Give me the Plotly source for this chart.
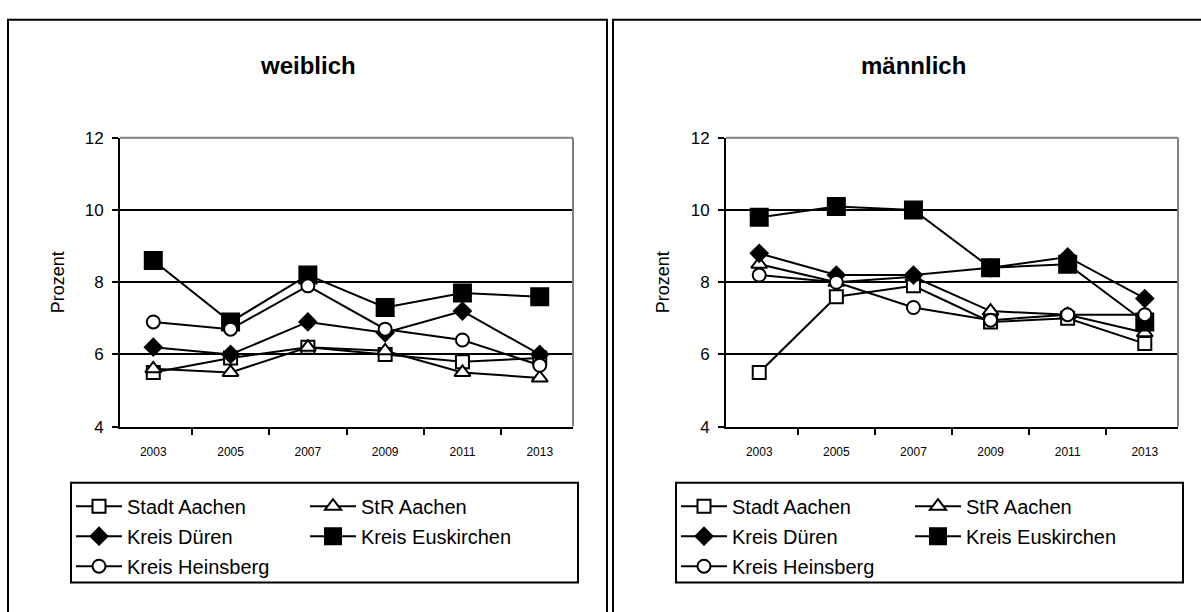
import plotly.graph_objects as go

# Survey years shown on the category axis
years = ["2003", "2005", "2007", "2009", "2011", "2013"]

series_names = ["Stadt Aachen", "StR Aachen", "Kreis Düren", "Kreis Euskirchen", "Kreis Heinsberg"]

# Anteile in Prozent, weiblich
w_stadt_aachen = [5.5, 5.9, 6.2, 6.0, 5.8, 5.9]
w_str_aachen = [5.6, 5.5, 6.2, 6.1, 5.5, 5.35]
w_kreis_dueren = [6.2, 6.0, 6.9, 6.6, 7.2, 6.0]
w_kreis_euskirchen = [8.6, 6.9, 8.2, 7.3, 7.7, 7.6]
w_kreis_heinsberg = [6.9, 6.7, 7.9, 6.7, 6.4, 5.7]

# Anteile in Prozent, männlich
m_stadt_aachen = [5.5, 7.6, 7.9, 6.9, 7.0, 6.3]
m_str_aachen = [8.5, 8.0, 8.15, 7.2, 7.1, 6.6]
m_kreis_dueren = [8.8, 8.2, 8.2, 8.4, 8.7, 7.55]
m_kreis_euskirchen = [9.8, 10.1, 10.0, 8.4, 8.5, 6.9]
m_kreis_heinsberg = [8.2, 8.0, 7.3, 6.95, 7.1, 7.1]

panel_titles = ["weiblich", "männlich"]
y_title = "Prozent"
y_ticks = [4, 6, 8, 10, 12]

W, H = 1201, 612
FONT = "Liberation Sans, Arial, sans-serif"

# marker style per series: symbol, size
styles = {
    "Stadt Aachen": dict(symbol="square-open", size=13),
    "StR Aachen": dict(symbol="triangle-up-open", size=14),
    "Kreis Düren": dict(symbol="diamond", size=13),
    "Kreis Euskirchen": dict(symbol="square", size=17),
    "Kreis Heinsberg": dict(symbol="circle-open", size=13),
}
# which legend column each series sits in
col_of = {"Stadt Aachen": 0, "Kreis Düren": 0, "Kreis Heinsberg": 0,
          "StR Aachen": 1, "Kreis Euskirchen": 1}

panels = [
    [w_stadt_aachen, w_str_aachen, w_kreis_dueren, w_kreis_euskirchen, w_kreis_heinsberg],
    [m_stadt_aachen, m_str_aachen, m_kreis_dueren, m_kreis_euskirchen, m_kreis_heinsberg],
]

def px(x):
    return x / W

def py(y):
    return 1 - y / H

fig = go.Figure()

offsets = [0, 605]
legend_names = [["legend", "legend2"], ["legend3", "legend4"]]

for p, values in enumerate(panels):
    xa = "x" if p == 0 else "x2"
    ya = "y" if p == 0 else "y2"
    for name, vals in zip(series_names, values):
        st = styles[name]
        fill = "black" if st["symbol"] in ("diamond", "square") else "white"
        fig.add_trace(go.Scatter(
            x=years, y=vals, name=name, mode="lines+markers",
            xaxis=xa, yaxis=ya,
            line=dict(color="black", width=2),
            marker=dict(symbol=st["symbol"].replace("-open", ""), size=st["size"],
                        color=fill, line=dict(color="black", width=2)),
            legend=legend_names[p][col_of[name]],
            legendgroup=f"{p}-{name}",
            showlegend=True,
        ))

axis_common_x = dict(
    type="category", categoryorder="array", categoryarray=years,
    tickson="boundaries", ticks="outside", ticklen=6, tickwidth=2, tickcolor="black",
    showline=True, linecolor="black", linewidth=2, showgrid=False, zeroline=False,
    tickfont=dict(family=FONT, size=12, color="black"), ticklabelstandoff=13,
    fixedrange=True,
)
axis_common_y = dict(
    range=[4, 12], tickvals=y_ticks, ticks="outside", ticklen=6, tickwidth=2,
    tickcolor="black", showline=True, linecolor="black", linewidth=2,
    showgrid=True, gridcolor="black", gridwidth=2, zeroline=False,
    tickfont=dict(family=FONT, size=17, color="black"), ticklabelstandoff=5,
    fixedrange=True,
)

plot_left = [120, 726]
plot_right = [573, 1178]
plot_top, plot_bottom = 133, 431

fig.update_layout(
    xaxis=dict(domain=[px(plot_left[0]), px(plot_right[0])], anchor="y", **axis_common_x),
    yaxis=dict(domain=[py(plot_bottom), py(plot_top)], anchor="x", **axis_common_y),
    xaxis2=dict(domain=[px(plot_left[1]), px(plot_right[1])], anchor="y2", **axis_common_x),
    yaxis2=dict(domain=[py(plot_bottom), py(plot_top)], anchor="x2", **axis_common_y),
)

shapes = []
annotations = []
legend_cfg = {}
for p in range(2):
    o = offsets[p]
    # outer panel frame
    shapes.append(dict(type="rect", xref="paper", yref="paper",
                       x0=px(8 + o), x1=px(607 + o), y0=py(640), y1=py(11),
                       line=dict(color="black", width=2), layer="above"))
    # grey top and right border of the plot area
    xd = "x domain" if p == 0 else "x2 domain"
    yd = "y domain" if p == 0 else "y2 domain"
    shapes.append(dict(type="line", xref=xd, yref=yd, x0=0, x1=1, y0=1, y1=1,
                       line=dict(color="#808080", width=2), layer="above"))
    shapes.append(dict(type="line", xref=xd, yref=yd, x0=1, x1=1, y0=0, y1=1,
                       line=dict(color="#808080", width=2), layer="above"))
    # legend box
    shapes.append(dict(type="rect", xref="paper", yref="paper",
                       x0=px(71 + o), x1=px(578 + o), y0=py(592), y1=py(489),
                       line=dict(color="black", width=2), layer="above"))
    # panel title
    annotations.append(dict(text=f"<b>{panel_titles[p]}</b>", xref="paper", yref="paper",
                            x=px(308 + o), y=py(58), showarrow=False,
                            xanchor="center", yanchor="middle",
                            font=dict(family=FONT, size=24, color="black")))
    # y axis title
    annotations.append(dict(text=y_title, xref="paper", yref="paper",
                            x=px(58 + o), y=py(282), showarrow=False, textangle=-90,
                            xanchor="center", yanchor="middle",
                            font=dict(family=FONT, size=18, color="black")))
    for c, lx in enumerate([71, 305]):
        legend_cfg[legend_names[p][c]] = dict(
            x=px(lx + o), y=py(493), xanchor="left", yanchor="top",
            orientation="v", bgcolor="rgba(0,0,0,0)", borderwidth=0,
            font=dict(family=FONT, size=20, color="black"),
            itemwidth=46, itemsizing="trace", traceorder="grouped",
            tracegroupgap=1, itemclick=False, itemdoubleclick=False,
        )

fig.update_layout(
    width=W, height=H, margin=dict(l=0, r=0, t=0, b=0),
    paper_bgcolor="white", plot_bgcolor="white",
    showlegend=True, shapes=shapes, annotations=annotations,
    font=dict(family=FONT, color="black"),
    **legend_cfg,
)

fig.write_html("out.html", config={"displayModeBar": False})
